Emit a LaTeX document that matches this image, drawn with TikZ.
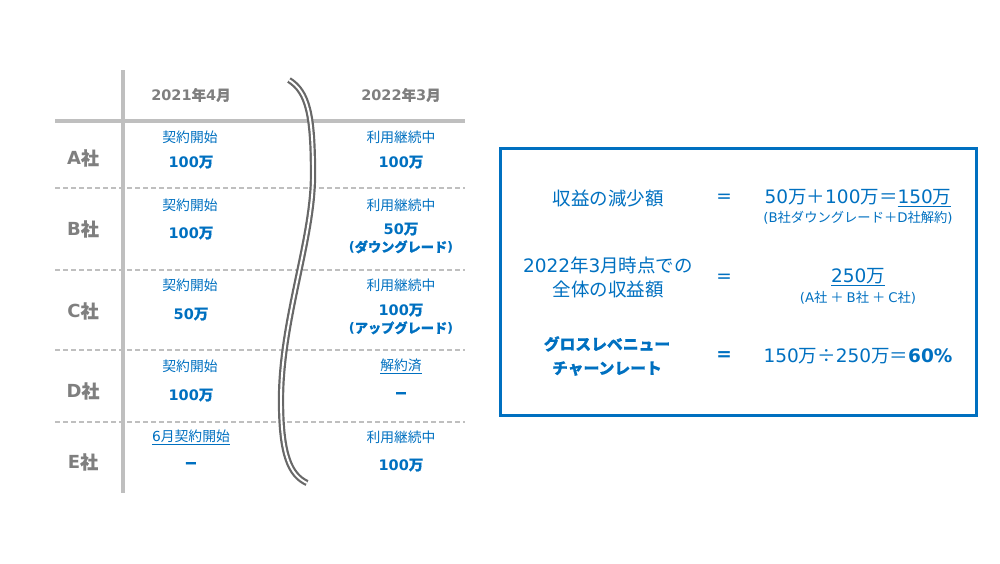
\documentclass[tikz,border=0pt]{standalone}
\usepackage{fontspec}
\setmainfont{Noto Sans CJK JP}[BoldFeatures={FakeBold=0.6}]
\newfontfamily\latfont{DejaVu Sans}
\newcommand\lat[1]{{\latfont #1}}
\definecolor{myblue}{HTML}{0070C0}
\definecolor{hdgray}{HTML}{7F7F7F}
\definecolor{lngray}{HTML}{BFBFBF}
\definecolor{wvgray}{HTML}{686868}
\tikzset{
  hdr/.style={text=hdgray, font=\fontsize{14.5}{16}\selectfont\bfseries, inner sep=0pt},
  rowlab/.style={text=hdgray, font=\fontsize{18}{19}\selectfont\bfseries, inner sep=0pt},
  stat/.style={text=myblue, font=\fontsize{13.8}{15}\selectfont, inner sep=0pt},
  val/.style={text=myblue, font=\fontsize{14.5}{17}\selectfont\bfseries, inner sep=0pt},
  dashval/.style={text=myblue, font=\fontsize{12}{14}\selectfont\bfseries, inner sep=0pt},
  note/.style={text=myblue, font=\fontsize{13.2}{15}\selectfont\bfseries, inner sep=0pt},
  solidsep/.style={draw=lngray, line width=3.5pt},
  dashsep/.style={draw=lngray, line width=1.6pt, dash pattern=on 5pt off 3pt},
  wave/.style={draw=wvgray, line width=2.2pt, double=white, double distance=1.9pt},
  bx/.style={draw=myblue, line width=3pt},
  big/.style={text=myblue, font=\fontsize{18.5}{24}\selectfont, inner sep=0pt, align=center},
  small/.style={text=myblue, font=\fontsize{13.3}{15}\selectfont, inner sep=0pt},
}
\begin{document}
\begin{tikzpicture}[x=1pt,y=-1pt]
\useasboundingbox (0,0) rectangle (1000,563);
% table lines
\coordinate (vt) at (123,70);
\coordinate (vb) at (123,493);
\draw[solidsep] (vt) -- (vb);
\coordinate (h0l) at (55,121); \coordinate (h0r) at (465,121);
\draw[solidsep] (h0l) -- (h0r);
\foreach \yy/\nm in {188/a,270/b,350/c,422/d}{
  \coordinate (dl\nm) at (55,\yy); \coordinate (dr\nm) at (465,\yy);
  \draw[dashsep] (dl\nm) -- (dr\nm);
}
% wave
\coordinate (w0) at (289,80);
\coordinate (w1) at (313,175);
\coordinate (w2) at (281,400);
\coordinate (w3) at (307,483);
\draw[wave] (w0) .. controls (308,92) and (313,115) .. (w1)
  .. controls (313,240) and (281,320) .. (w2)
  .. controls (281,455) and (290,475) .. (w3);
% headers
\node[hdr] (h1) at (191,95) {\lat{2021}年\lat{4}月};
\node[hdr] (h2) at (401,95) {\lat{2022}年\lat{3}月};
% row labels
\node[rowlab] (ra) at (83,158) {\lat{A}社};
\node[rowlab] (rb) at (83,229) {\lat{B}社};
\node[rowlab] (rc) at (83,311) {\lat{C}社};
\node[rowlab] (rd) at (83,391) {\lat{D}社};
\node[rowlab] (re) at (83,462) {\lat{E}社};
% column 1
\node[stat] (a1s) at (190,137) {契約開始};
\node[val]  (a1v) at (191,162) {\lat{100}万};
\node[stat] (b1s) at (190,205) {契約開始};
\node[val]  (b1v) at (191,233) {\lat{100}万};
\node[stat] (c1s) at (190,285) {契約開始};
\node[val]  (c1v) at (191,314) {\lat{50}万};
\node[stat] (d1s) at (190,366) {契約開始};
\node[val]  (d1v) at (191,395) {\lat{100}万};
\node[stat] (e1s) at (191,437) {\underline{\lat{6}月契約開始}};
\node[dashval] (e1v) at (191,465) {ー};
% column 2
\node[stat] (a2s) at (401,137) {利用継続中};
\node[val]  (a2v) at (401,162) {\lat{100}万};
\node[stat] (b2s) at (401,205) {利用継続中};
\node[val]  (b2v) at (401,229) {\lat{50}万};
\node[note] (b2n) at (401,247) {\lat{(}ダウングレード\lat{)}};
\node[stat] (c2s) at (401,285) {利用継続中};
\node[val]  (c2v) at (401,310) {\lat{100}万};
\node[note] (c2n) at (401,328) {\lat{(}アップグレード\lat{)}};
\node[stat] (d2s) at (401,366) {\underline{解約済}};
\node[dashval] (d2v) at (401,395) {ー};
\node[stat] (e2s) at (401,437) {利用継続中};
\node[val]  (e2v) at (401,465) {\lat{100}万};
% right box
\coordinate (bxa) at (500,148);
\coordinate (bxb) at (976,415);
\draw[bx] (bxa) rectangle (bxb);
\node[big] (l1) at (608,198) {収益の減少額};
\node[big] (e1) at (724,198) {\lat{=}};
\node[big] (r1) at (858,198) {\lat{50}万＋\lat{100}万＝\underline{\lat{150}万}};
\node[small] (n1) at (858,218) {\lat{(B}社ダウングレード＋\lat{D}社解約\lat{)}};
\node[big] (l2) at (608,277) {\lat{2022}年\lat{3}月時点での\\全体の収益額};
\node[big] (e2) at (724,278) {\lat{=}};
\node[big] (r2) at (858,277) {\underline{\lat{250}万}};
\node[small] (n2) at (858,298) {\lat{(A}社 ＋ \lat{B}社 ＋ \lat{C}社\lat{)}};
\node[big, font=\fontsize{15.8}{24}\selectfont\bfseries] (l3) at (607,356) {グロスレベニュー\\チャーンレート};
\node[big, font=\fontsize{18.5}{24}\selectfont\bfseries] (e3) at (724,356) {\lat{=}};
\node[big] (r3) at (858,356) {\lat{150}万÷\lat{250}万＝\textbf{\lat{60\%}}};
\end{tikzpicture}
\end{document}
